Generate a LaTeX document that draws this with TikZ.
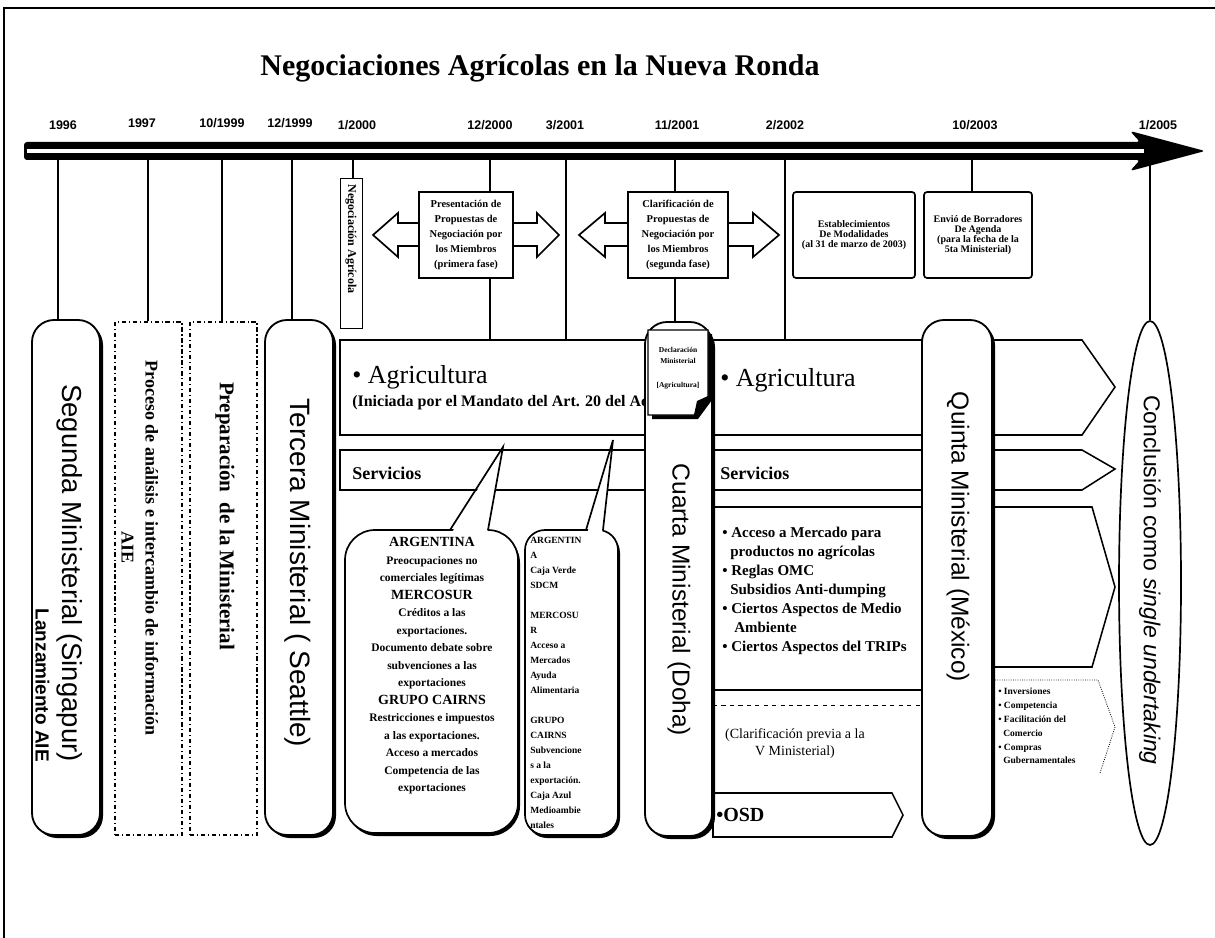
\documentclass[tikz,border=0pt]{standalone}
\usepackage{fontspec}
\setmainfont{Liberation Serif}
\setsansfont{Liberation Sans}
\usetikzlibrary{shadows,shapes.geometric}

\newlength\pxu
\setlength\pxu{0.7113pt}
\newcommand\fpx[2]{\fontsize{#1\pxu}{#2\pxu}\selectfont}
\newcommand\pxlen[1]{#1*0.025cm}

\tikzset{
  ministerial/.style={draw, line width=1.3pt, fill=white, rounded corners=\pxlen{22},
    drop shadow={shadow xshift=\pxlen{3}, shadow yshift=-\pxlen{3}, opacity=1, fill=black}},
  preparacion/.style={draw, line width=0.8pt, dash dot, fill=white},
  rama/.style={line width=0.9pt},
  franja/.style={draw, line width=1.1pt, fill=white},
  fase/.style={draw, line width=1.2pt, fill=white},
  bocadillo/.style={draw, line width=1.2pt, fill=white, rounded corners=\pxlen{30},
    drop shadow={shadow xshift=\pxlen{2}, shadow yshift=-\pxlen{3}, opacity=1, fill=black}},
  fecha/.style={font=\sffamily\bfseries\fpx{12.5}{12}},
  nota/.style={font=\bfseries\fpx{10.5}{15}, align=center, inner sep=0},
  giro/.style={rotate=-90, inner sep=0},
}

\begin{document}
\begin{tikzpicture}[x=0.025cm, y=-0.025cm]
  \useasboundingbox (0,0) rectangle (1215,938);
  % marco
  \draw[line width=1.6pt] (4,938) -- (4,8) -- (1215,8);
  \node[font=\bfseries\fpx{30}{34}] (titulo) at (540,68) {Negociaciones Agrícolas en la Nueva Ronda};

  % linea de tiempo
  \fill[rounded corners=\pxlen{3}] (24,142) -- (1140,142) -- (1130,131) -- (1205,151) -- (1130,171) -- (1140,160) -- (24,160) -- cycle;
  \draw[white, line width=\pxlen{4}] (27,151) -- (1144,151);

  \node[fecha] (f1996) at (63,125) {1996};
  \node[fecha] (f1997) at (142,123) {1997};
  \node[fecha] (f1099) at (222,123) {10/1999};
  \node[fecha] (f1299) at (290,123) {12/1999};
  \node[fecha] (f0100) at (357,125) {1/2000};
  \node[fecha] (f1200) at (490,125) {12/2000};
  \node[fecha] (f0301) at (565,125) {3/2001};
  \node[fecha] (f1101) at (677,125) {11/2001};
  \node[fecha] (f0202) at (785,125) {2/2002};
  \node[fecha] (f1003) at (975,125) {10/2003};
  \node[fecha] (f0105) at (1158,125) {1/2005};

  \coordinate (k1996) at (58,160);
  \coordinate (k1997) at (148,160);
  \coordinate (k1099) at (222,160);
  \coordinate (k1299) at (292,160);
  \coordinate (k0100) at (353,160);
  \coordinate (k1200) at (490,160);
  \coordinate (k0301) at (566,160);
  \coordinate (k1101) at (675,160);
  \coordinate (k0202) at (785,160);
  \coordinate (k1003) at (972,160);
  \coordinate (k0105) at (1150,160);
  \coordinate (agriTop) at (0,340);

  % ministeriales y fases previas
  \node[ministerial, minimum width=\pxlen{68}, minimum height=\pxlen{515}] (segunda) at (66,577.5) {};
  \node[preparacion, minimum width=\pxlen{67}, minimum height=\pxlen{513}] (proceso) at (148.5,578.5) {};
  \node[preparacion, minimum width=\pxlen{67}, minimum height=\pxlen{513}] (prepara) at (223.5,578.5) {};
  \node[ministerial, minimum width=\pxlen{68}, minimum height=\pxlen{515}] (tercera) at (299,577.5) {};
  \node[draw, line width=0.6pt, minimum width=\pxlen{22}, minimum height=\pxlen{150}] (negoc) at (351,253) {};

  % fases de negociacion
  \draw[fase] (419,223) -- (398,223) -- (398,213) -- (373,235) -- (398,257) -- (398,246) -- (419,246);
  \draw[fase] (513,223) -- (537,223) -- (537,213) -- (559,235) -- (537,257) -- (537,246) -- (513,246);
  \node[fase, nota, minimum width=\pxlen{94}, minimum height=\pxlen{86}] (present) at (466,235)
    {Presentación de\\Propuestas de\\Negociación por\\los Miembros\\(primera fase)};
  \draw[fase] (628,223) -- (605,223) -- (605,213) -- (579,235) -- (605,257) -- (605,246) -- (628,246);
  \draw[fase] (728,223) -- (753,223) -- (753,213) -- (779,235) -- (753,257) -- (753,246) -- (728,246);
  \node[fase, nota, minimum width=\pxlen{100}, minimum height=\pxlen{86}] (clarif) at (678,235)
    {Clarificación de\\Propuestas de\\Negociación por\\los Miembros\\(segunda fase)};
  \node[fase, nota, font=\bfseries\fpx{10}{10}, rounded corners=\pxlen{3}, minimum width=\pxlen{122}, minimum height=\pxlen{86}] (modal) at (854,235)
    {Establecimientos\\De Modalidades\\(al 31 de marzo de 2003)};
  \node[fase, nota, font=\bfseries\fpx{10}{10}, rounded corners=\pxlen{3}, minimum width=\pxlen{108}, minimum height=\pxlen{86}] (envio) at (978,235)
    {Envió de Borradores\\De Agenda\\(para la fecha de la\\5ta Ministerial)};

  % ramas desde la linea de tiempo
  \draw[rama] (k1996) -- (k1996 |- segunda.north);
  \draw[rama] (k1997) -- (k1997 |- proceso.north);
  \draw[rama] (k1099) -- (k1099 |- prepara.north);
  \draw[rama] (k1299) -- (k1299 |- tercera.north);
  \draw[rama] (k0100) -- (k0100 |- negoc.north);
  \draw[rama] (k1200) -- (k1200 |- present.north);
  \draw[rama] (k1200 |- present.south) -- (k1200 |- agriTop);
  \draw[rama] (k0301) -- (k0301 |- agriTop);
  \draw[rama] (k1101) -- (k1101 |- clarif.north);
  \draw[rama] (k0202) -- (k0202 |- agriTop);
  \draw[rama] (k1003) -- (k1003 |- envio.north);

  % franjas
  \draw[franja] (340,340) -- (1082,340) -- (1115,387) -- (1082,435) -- (340,435) -- cycle;
  \draw[franja] (340,450) -- (1082,450) -- (1115,469) -- (1082,490) -- (340,490) -- cycle;
  \draw[franja] (713,507) -- (1092,507) -- (1115,587) -- (1092,667) -- (955,667) -- (955,690) -- (713,690) -- cycle;
  \draw[franja, fill=none] (713,690) -- (713,837) -- (892,837);
  \draw[line width=0.6pt, dashed] (713,705) -- (922,705);
  \draw[franja] (713,793) -- (892,793) -- (903,815) -- (892,837) -- (713,837) -- cycle;
  \draw[line width=0.6pt, densely dotted] (995,680) -- (1098,680) -- (1115,727) -- (1100,773);

  \node[anchor=west, inner sep=0, font=\fpx{26}{28}] (agriIzq) at (352,377) {• Agricultura};
  \node[anchor=west, inner sep=0, font=\bfseries\fpx{16}{18}] (iniciada) at (352,403) {(Iniciada por el Mandato del Art. 20 del Ac};
  \node[anchor=west, inner sep=0, font=\fpx{26}{28}] (agriDer) at (720,380) {• Agricultura};
  \node[anchor=west, inner sep=0, font=\bfseries\fpx{18}{20}] (servIzq) at (352,473) {Servicios};
  \node[anchor=west, inner sep=0, font=\bfseries\fpx{18}{20}] (servDer) at (720,473) {Servicios};
  \node[anchor=north west, inner sep=0, align=left, font=\bfseries\fpx{15}{19}] (temas) at (722,527)
    {• Acceso a Mercado para\\\hspace*{8\pxu}productos no agrícolas\\• Reglas OMC\\\hspace*{8\pxu}Subsidios Anti-dumping\\• Ciertos Aspectos de Medio\\\hspace*{12\pxu}Ambiente\\• Ciertos Aspectos del TRIPs};
  \node[align=center, inner sep=0, font=\fpx{14}{17}] (previa) at (795,744) {(Clarificación previa a la\\V Ministerial)};
  \node[anchor=west, inner sep=0, font=\bfseries\fpx{20}{22}] (osd) at (716,815) {•OSD};
  \node[anchor=north west, inner sep=0, align=left, font=\bfseries\fpx{9.5}{13.8}] (otros) at (998,688)
    {• Inversiones\\• Competencia\\• Facilitación del\\\hspace*{5\pxu}Comercio\\• Compras\\\hspace*{5\pxu}Gubernamentales};

  % propuestas
  \node[bocadillo, minimum width=\pxlen{173}, minimum height=\pxlen{303}] (arg1) at (431.5,681.5) {};
  \fill[white] (451,534) -- (503,447) -- (487,534) -- cycle;
  \draw[line width=1.2pt] (450,530) -- (503,447) -- (488,530);
  \node[bocadillo, rounded corners=\pxlen{20}, minimum width=\pxlen{93}, minimum height=\pxlen{305}] (arg2) at (571.5,682.5) {};
  \fill[white] (587,534) -- (613,440) -- (602,534) -- cycle;
  \draw[line width=1.2pt] (586,530) -- (613,440) -- (603,530);
  \node[align=center, inner sep=0, font=\bfseries\fpx{11.5}{17.5}] (arg1Txt) at (432,666)
    {{\fpx{14}{17.5}ARGENTINA}\\Preocupaciones no\\comerciales legítimas\\{\fpx{14}{17.5}MERCOSUR}\\Créditos a las\\exportaciones.\\Documento debate sobre\\subvenciones a las\\exportaciones\\{\fpx{14}{17.5}GRUPO CAIRNS}\\Restricciones e impuestos\\a las exportaciones.\\Acceso a mercados\\Competencia de las\\exportaciones};
  \node[anchor=north west, inner sep=0, align=left, font=\bfseries\fpx{9.5}{15}] (arg2Txt) at (530,537)
    {ARGENTIN\\A\\Caja Verde\\SDCM\\[15\pxu]MERCOSU\\R\\Acceso a\\Mercados\\Ayuda\\Alimentaria\\[15\pxu]GRUPO\\CAIRNS\\Subvencione\\s a la\\exportación.\\Caja Azul\\Medioambie\\ntales};

  % cuarta, quinta y conclusion
  \node[ministerial, minimum width=\pxlen{67}, minimum height=\pxlen{514}] (cuarta) at (678.5,579) {};
  \draw[rama] (k1101 |- clarif.south) -- (k1101 |- cuarta.north);
  \fill (652,334) -- (712,334) -- (712,400) -- (698,419) -- (652,419) -- cycle;
  \draw[line width=0.8pt, fill=white] (648,330) -- (708,330) -- (708,396) -- (694,415) -- (648,415) -- cycle;
  \fill (694,415) -- (697,401) -- (708,396) -- cycle;
  \node[align=center, inner sep=0, font=\bfseries\fpx{7.5}{11}] (decla) at (678,368) {Declaración\\Ministerial\\[13\pxu]{[}Agricultura{]}};
  \node[ministerial, minimum width=\pxlen{70}, minimum height=\pxlen{516}] (quinta) at (957,578) {};
  \node[draw, ellipse, line width=1.2pt, fill=white, inner sep=0, minimum width=\pxlen{62}, minimum height=\pxlen{524}] (conclu) at (1150,583) {};
  \draw[rama] (k0105) -- (conclu.north);

  % textos verticales
  \node[giro, align=right, font=\sffamily\fpx{27.5}{27}] (segundaTxt) at (59,573) {Segunda Ministerial (Singapur)\\{\bfseries\fpx{19}{27}Lanzamiento AIE}};
  \node[giro, align=center, font=\bfseries\fpx{18}{24}] (procesoTxt) at (140,548) {Proceso de análisis e intercambio de información\\AIE};
  \node[giro, font=\bfseries\fpx{21}{24}] (preparaTxt) at (225,516) {Preparación\ \ de la Ministerial};
  \node[giro, font=\sffamily\fpx{28}{30}] (terceraTxt) at (298,573) {Tercera Ministerial ( Seattle)};
  \node[giro, font=\bfseries\fpx{12}{12}] (negocTxt) at (351,239) {Negociación Agrícola};
  \node[giro, font=\sffamily\fpx{24.5}{26}] (cuartaTxt) at (679,600) {Cuarta Ministerial (Doha)};
  \node[giro, font=\sffamily\fpx{24.5}{26}] (quintaTxt) at (958,537) {Quinta Ministerial (México)};
  \node[giro, font=\sffamily\fpx{23}{26}] (concluTxt) at (1150,580) {Conclusión como \textit{single undertaking}};
\end{tikzpicture}
\end{document}
